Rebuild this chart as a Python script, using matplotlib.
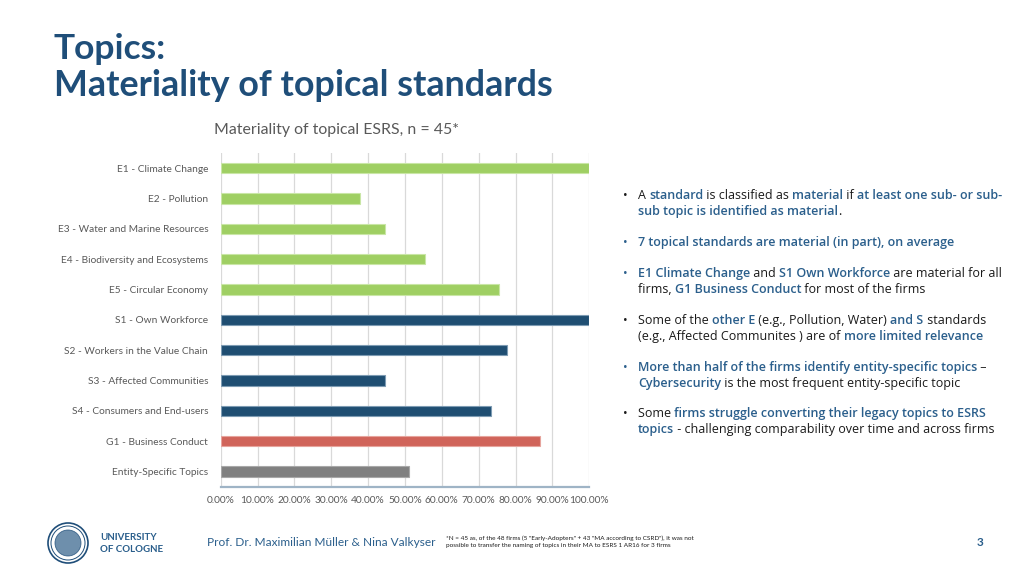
import matplotlib
matplotlib.use("Agg")
import matplotlib.pyplot as plt
from matplotlib.patches import Ellipse

plt.rcParams['font.family'] = ['Lato', 'DejaVu Sans']

# data: share of firms (n = 45) for which a topical standard is material
topics = ["E1 - Climate Change", "E2 - Pollution", "E3 - Water and Marine Resources",
          "E4 - Biodiversity and Ecosystems", "E5 - Circular Economy", "S1 - Own Workforce",
          "S2 - Workers in the Value Chain", "S3 - Affected Communities",
          "S4 - Consumers and End-users", "G1 - Business Conduct", "Entity-Specific Topics"]
shares = [1.0, 0.3778, 0.4444, 0.5556, 0.7556, 1.0, 0.7778, 0.4444, 0.7333, 0.8667, 0.5111]
groups = ["E", "E", "E", "E", "E", "S", "S", "S", "S", "G", "X"]
tick_vals = [0.0, 0.1, 0.2, 0.3, 0.4, 0.5, 0.6, 0.7, 0.8, 0.9, 1.0]

group_colors = {"E": "#9fcf63", "S": "#1f4e72", "G": "#d0645a", "X": "#808080"}
group_edges = {"E": "#c9e6a6", "S": "#7d9bb3", "G": "#e6a49d", "X": "#a8a8a8"}

TITLE_BLUE = "#1f4e79"
HI_BLUE = "#2b5f8c"
GREY = "#595959"

W, H = 1024, 573
fig = plt.figure(figsize=(W / 100, H / 100), dpi=100)
fig.patch.set_facecolor("white")

# slide title
fig.text(54 / W, 1 - 49 / H, "Topics:", fontsize=25.5, fontweight="bold", color=TITLE_BLUE, va="center")
fig.text(54 / W, 1 - 86 / H, "Materiality of topical standards", fontsize=25.8, fontweight="bold",
         color=TITLE_BLUE, va="center")

# bar chart
ax = fig.add_axes([220.7 / W, 1 - 486.7 / H, 368.6 / W, 333.7 / H])
y = list(range(len(topics)))
ax.barh(y, shares, height=0.34,
        color=[group_colors[g] for g in groups],
        edgecolor=[group_edges[g] for g in groups], linewidth=0.8, zorder=3)
ax.set_ylim(len(topics) - 0.5, -0.5)
ax.set_xlim(0, 1.0)
ax.set_yticks(y)
ax.set_yticklabels(topics, fontsize=7.3, color=GREY)
ax.set_xticks(tick_vals)
ax.set_xticklabels(["%.2f%%" % (v * 100) for v in tick_vals], fontsize=7.3, color=GREY)
ax.tick_params(axis="both", length=0, pad=9)
ax.tick_params(axis="x", pad=7)
ax.grid(axis="x", color="#d9d9d9", linewidth=0.9, zorder=0)
for s in ["top", "right", "left"]:
    ax.spines[s].set_visible(False)
ax.spines["bottom"].set_color("#9fb4c6")
ax.spines["bottom"].set_linewidth(1.6)
ax.spines["bottom"].set_zorder(4)

fig.text(337 / W, 1 - 130 / H, "Materiality of topical ESRS, n = 45*", fontsize=11.4,
         color=GREY, ha="center", va="center")

# bullet points with highlighted segments
renderer = fig.canvas.get_renderer()
BODY = ['Open Sans', 'DejaVu Sans']
BSIZE = 9.0


def rich_line(x, yy, parts, size=BSIZE):
    for txt, hi in parts:
        t = fig.text(x / W, 1 - yy / H, txt, fontsize=size, va="baseline", family=BODY,
                     color=HI_BLUE if hi else "#1a1a1a",
                     fontweight="semibold" if hi else "normal")
        x += t.get_window_extent(renderer).width


bullets = [
    (195, [[("A ", 0), ("standard", 1), (" is classified as ", 0), ("material", 1), (" if ", 0),
            ("at least one sub- or sub-", 1)],
           [("sub topic is identified as material", 1), (".", 0)]]),
    (242, [[("7 topical standards are material (in part), on average", 1)]]),
    (273, [[("E1 Climate Change", 1), (" and ", 0), ("S1 Own Workforce", 1), (" are material for all", 0)],
           [("firms, ", 0), ("G1 Business Conduct", 1), (" for most of the firms", 0)]]),
    (320, [[("Some of the ", 0), ("other E", 1), (" (e.g., Pollution, Water) ", 0), ("and S", 1),
            (" standards", 0)],
           [("(e.g., Affected Communites ) are of ", 0), ("more limited relevance", 1)]]),
    (367, [[("More than half of the firms identify entity-specific topics", 1), (" \u2013", 0)],
           [("Cybersecurity", 1), (" is the most frequent entity-specific topic", 0)]]),
    (413, [[("Some ", 0), ("firms struggle converting their legacy topics to ESRS", 1)],
           [("topics", 1), (" - challenging comparability over time and across firms", 0)]]),
]
for y0, lines in bullets:
    first_hi = lines[0][0][1]
    fig.text(623 / W, 1 - (y0 + 4) / H, "\u2022", fontsize=BSIZE, va="baseline", family=BODY,
             color=HI_BLUE if first_hi else "#1a1a1a")
    for i, parts in enumerate(lines):
        rich_line(638, y0 + 4 + 16 * i, parts)

# footer: logo, names, footnote, page number
cx, cy = 68 / W, 1 - 543 / H
for r, lw in [(20, 1.2), (17, 0.7)]:
    fig.patches.append(Ellipse((cx, cy), 2 * r / W, 2 * r / H, transform=fig.transFigure,
                               fill=False, edgecolor=TITLE_BLUE, linewidth=lw))
fig.patches.append(Ellipse((cx, cy), 26 / W, 26 / H, transform=fig.transFigure,
                           facecolor="#4a7398", edgecolor=TITLE_BLUE, linewidth=0.6, alpha=0.8))
fig.text(100 / W, 1 - 537 / H, "UNIVERSITY", fontsize=7, fontweight="bold", color=HI_BLUE, va="center")
fig.text(100 / W, 1 - 550 / H, "OF COLOGNE", fontsize=7, fontweight="bold", color=HI_BLUE, va="center")
fig.text(207 / W, 1 - 543 / H, "Prof. Dr. Maximilian M\u00fcller & Nina Valkyser", fontsize=8.6,
         color=HI_BLUE, va="center")
fig.text(446 / W, 1 - 538 / H,
         "*N = 45 as, of the 48 firms (5 \"Early-Adopters\" + 43 \"MA according to CSRD\"), it was not",
         fontsize=4.6, color="#1a1a1a", va="center")
fig.text(446 / W, 1 - 546 / H,
         "possible to transfer the naming of topics in their MA to ESRS 1 AR16 for 3 firms",
         fontsize=4.6, color="#1a1a1a", va="center")
fig.text(980 / W, 1 - 543 / H, "3", fontsize=8.5, fontweight="bold", color=HI_BLUE, va="center",
         ha="center")

fig.savefig("out.png", dpi=100)
